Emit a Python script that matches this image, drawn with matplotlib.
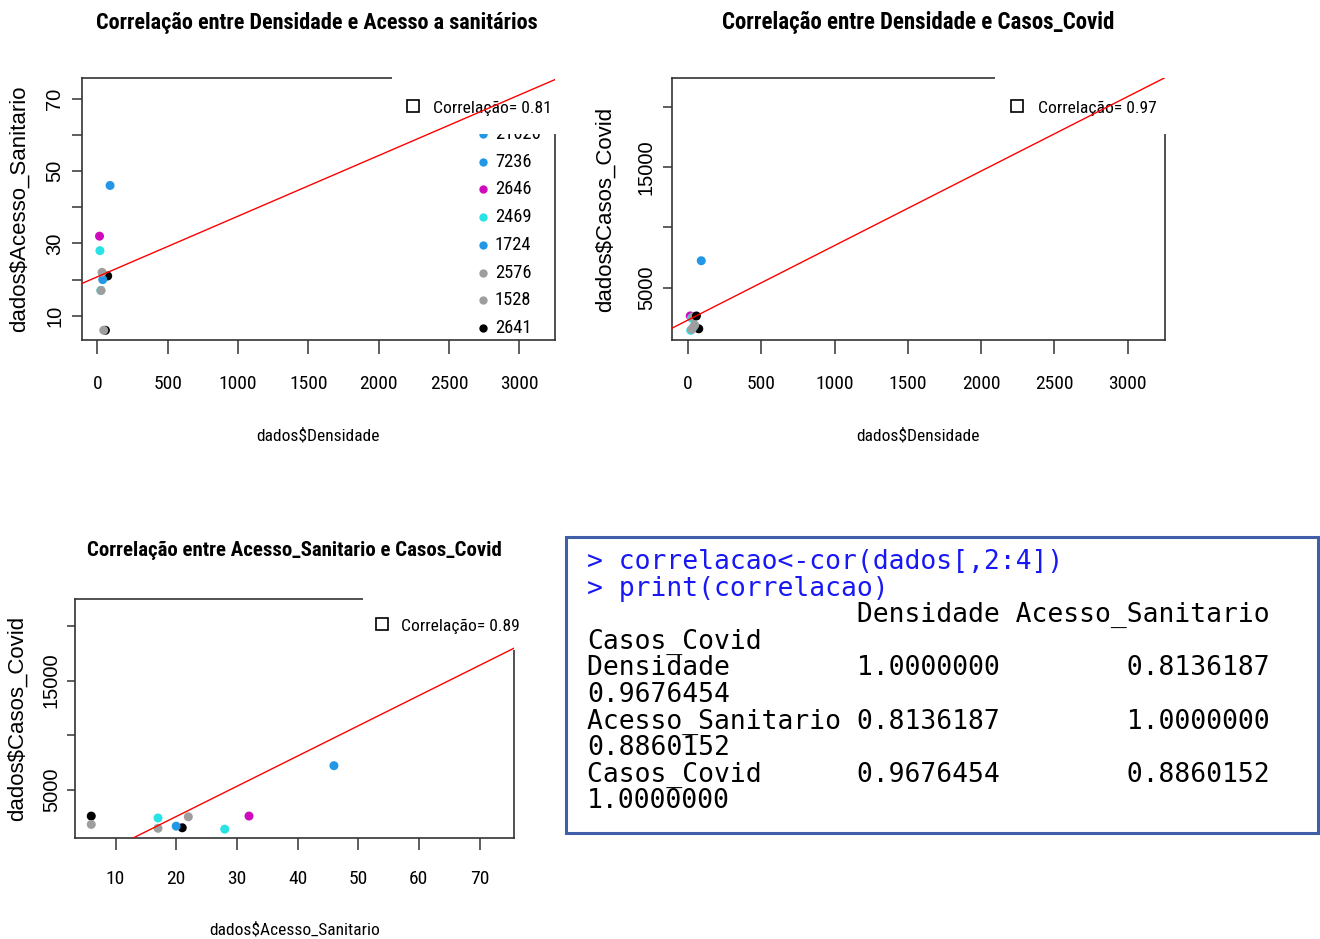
import matplotlib
matplotlib.use("Agg")
import matplotlib.pyplot as plt
from matplotlib import font_manager
from matplotlib.patches import Rectangle
import numpy as np

# dados
casos_covid = [1575, 1450, 21626, 7236, 2646, 2469, 1724, 2576, 1528, 2641, 1880]
acesso_sanitario = [21, 28, 73, 46, 32, 17, 20, 22, 17, 6, 6]
densidade = [73, 18, 3130, 90, 15, 24, 38, 33, 26, 57, 45]
cores = ["black", "#28E2E5", "#2297E6", "#2297E6", "#CD0BBC", "#28E2E5",
         "#2297E6", "#9E9E9E", "#9E9E9E", "black", "#9E9E9E"]

nomes_var = ["Densidade", "Acesso_Sanitario", "Casos_Covid"]
matriz_cor = [[1.0000000, 0.8136187, 0.9676454],
              [0.8136187, 1.0000000, 0.8860152],
              [0.9676454, 0.8860152, 1.0000000]]

# fonte estreita, se houver
disponiveis = {f.name for f in font_manager.fontManager.ttflist}
NARROW, ESC = "Liberation Sans", 0.84
for nome in ["Roboto Condensed", "Liberation Sans Narrow", "Arial Narrow", "Open Sans Condensed"]:
    if nome in disponiveis:
        NARROW, ESC = nome, 1.0
        break
REG = "Liberation Sans"

W, H = 1320, 939
fig = plt.figure(figsize=(W / 100, H / 100), dpi=100)
PT = 0.72  # pixels -> pontos


def px_axes(l, t, r, b):
    return fig.add_axes([l / W, 1 - b / H, (r - l) / W, (b - t) / H])


def lim_r(v):
    # limites como no R (4% de folga)
    lo, hi = min(v), max(v)
    d = (hi - lo) * 0.04
    return lo - d, hi + d


def painel(ax, x, y, xticks, yticks, ylab_show, xlabel, ylabel, corr_txt,
           ticklen_x=14, ticklen_y=10, ypad=8, ylab_x=-0.11, xpad=15):
    ax.scatter(x, y, c=cores, s=42, zorder=2, linewidths=0)
    b, a = np.polyfit(x, y, 1)
    ax.axline((0, a), slope=b, color="red", lw=1.0, zorder=5)
    ax.set_xlim(*lim_r(x))
    ax.set_ylim(*lim_r(y))
    for s in ax.spines.values():
        s.set_color("#333333")
        s.set_linewidth(1.2)
    ax.set_xticks(xticks)
    ax.set_xticklabels([str(v) for v in xticks], fontfamily=NARROW, fontsize=14 * ESC)
    ax.set_yticks(yticks)
    ax.set_yticklabels([str(v) if show else "" for v, show in zip(yticks, ylab_show)],
                       fontfamily=REG, fontsize=14.5, rotation=90, va="center")
    ax.tick_params(axis="x", length=ticklen_x * PT, width=1.1, color="#333333", pad=xpad)
    ax.tick_params(axis="y", length=ticklen_y * PT, width=1.1, color="#333333", pad=ypad * PT)
    ax.set_xlabel(xlabel, fontfamily=NARROW, fontsize=12.5 * ESC)
    ax.set_ylabel(ylabel, fontfamily=REG, fontsize=16)
    ax.yaxis.set_label_coords(ylab_x, 0.5)
    # caixa da legenda (fundo branco que cobre a borda)
    ax.add_patch(Rectangle((0.656, 0.785), 0.5, 0.4, transform=ax.transAxes,
                           facecolor="white", edgecolor="none", zorder=4, clip_on=False))
    ax.plot([0.70], [0.895], marker="s", ms=9, mfc="white", mec="black", mew=1.2,
            transform=ax.transAxes, clip_on=False, zorder=4.5)
    ax.text(0.742, 0.885, corr_txt, transform=ax.transAxes, fontfamily=NARROW,
            fontsize=12.6 * ESC, va="center", ha="left", zorder=4.5)


# painel 1
ax1 = px_axes(82, 78, 555, 340)
painel(ax1, densidade, acesso_sanitario, list(range(0, 3001, 500)),
       list(range(10, 71, 10)), [True, False, True, False, True, False, True],
       "dados$Densidade", "dados$Acesso_Sanitario", "Correlação= 0.81",
       ticklen_y=10, ypad=8, ylab_x=-0.11)
ax1.xaxis.set_label_coords(0.499, -0.336)
# legenda de cores (a parte de cima fica escondida pela caixa branca)
for k, (lab, cor) in enumerate(zip(casos_covid, cores)):
    yk = 1 - (134 + (k - 2) * 27.7 - 78) / 262
    if yk > 0.8:
        continue
    ax1.plot([0.848], [yk], marker="o", ms=6, color=cor, mew=0,
             transform=ax1.transAxes, zorder=3)
    ax1.text(0.873, yk, str(lab), transform=ax1.transAxes, fontfamily=NARROW,
             fontsize=13.3 * ESC, va="center", ha="left", zorder=3, clip_on=True)
ax1.set_xlim(*lim_r(densidade))
ax1.set_ylim(*lim_r(acesso_sanitario))

# painel 2
ax2 = px_axes(672, 78, 1165, 340)
painel(ax2, densidade, casos_covid, list(range(0, 3001, 500)),
       [5000, 10000, 15000, 20000], [True, False, True, False],
       "dados$Densidade", "dados$Casos_Covid", "Correlação= 0.97",
       ticklen_y=9, ypad=7, ylab_x=-0.114)
ax2.xaxis.set_label_coords(0.499, -0.336)

# painel 3
ax3 = px_axes(75, 599, 514, 838)
painel(ax3, acesso_sanitario, casos_covid, list(range(10, 71, 10)),
       [5000, 10000, 15000, 20000], [True, False, True, False],
       "dados$Acesso_Sanitario", "dados$Casos_Covid", "Correlação= 0.89",
       ticklen_x=12, ticklen_y=8, ypad=6, ylab_x=-0.107, xpad=14.5)
ax3.xaxis.set_label_coords(0.501, -0.35)

# títulos
fig.text(317 / W, 1 - 23 / H, "Correlação entre Densidade e Acesso a sanitários",
         fontfamily=NARROW, fontweight="bold", fontsize=16 * ESC, ha="center", va="center")
fig.text(918 / W, 1 - 23 / H, "Correlação entre Densidade e Casos_Covid",
         fontfamily=NARROW, fontweight="bold", fontsize=16.5 * ESC, ha="center", va="center")
fig.text(294 / W, 1 - 550 / H, "Correlação entre Acesso_Sanitario e Casos_Covid",
         fontfamily=NARROW, fontweight="bold", fontsize=15 * ESC, ha="center", va="center")

# saída do console R
fig.patches.append(Rectangle((566 / W, 1 - 833 / H), (1318 - 566) / W, (833 - 537) / H,
                             transform=fig.transFigure, facecolor="white",
                             edgecolor="#3F5FA8", lw=2.2))
linhas = ["> correlacao<-cor(dados[,2:4])", "> print(correlacao)"]
linhas.append(" " * 17 + f"{nomes_var[0]:<9} {nomes_var[1]:>16}")
linhas.append(nomes_var[2])
for i, nome in enumerate(nomes_var):
    linhas.append(f"{nome:<16} {matriz_cor[i][0]:.7f} {matriz_cor[i][1]:>16.7f}")
    linhas.append(f"{matriz_cor[i][2]:.7f}")
for i, txt in enumerate(linhas):
    fig.text(587 / W, 1 - (562 + i * 26.6) / H, txt, fontfamily="DejaVu Sans Mono",
             fontsize=19, color="#1818F5" if i < 2 else "black", ha="left", va="center")

fig.savefig("out.png", dpi=100)
